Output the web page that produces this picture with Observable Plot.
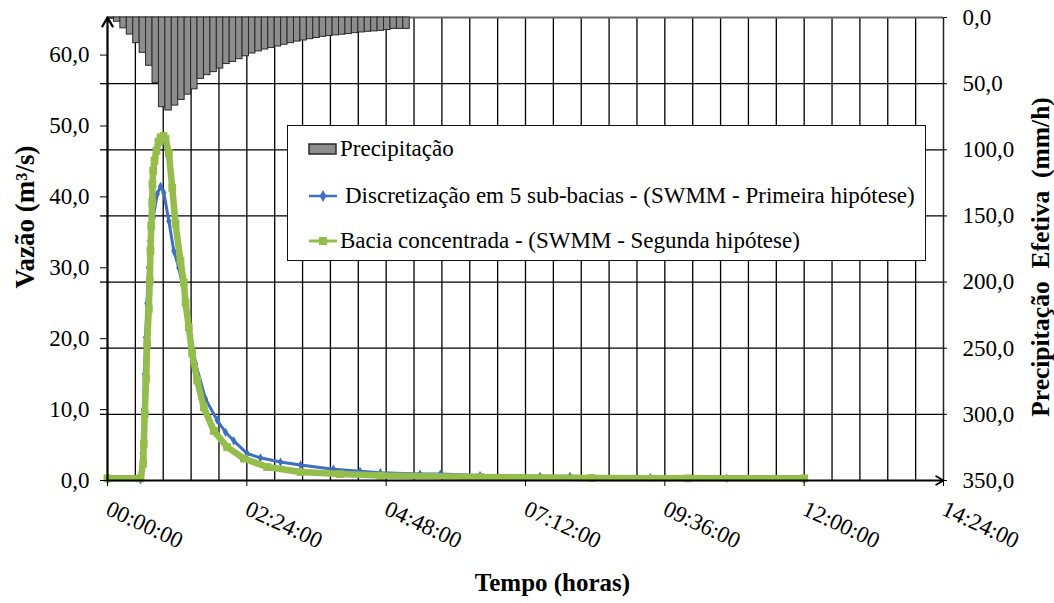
<!DOCTYPE html>
<html>
<head>
<meta charset="utf-8">
<script src="https://cdn.jsdelivr.net/npm/d3@7"></script>
<script src="https://cdn.jsdelivr.net/npm/@observablehq/plot@0.6"></script>
<style>
  body { margin: 0; background: #fff; }
  #chart { position: relative; width: 1054px; height: 603px; font-family: "Liberation Serif", "Times New Roman", serif; }
  #legend { position: absolute; left: 287px; top: 125px; width: 639px; height: 136px; box-sizing: border-box;
            border: 1.5px solid #111; background: #fff; font-size: 23px; color: #000; }
  #legend .item { position: absolute; left: 20px; height: 26px; display: flex; align-items: center; white-space: nowrap; }
  #legend svg { display: block; }
</style>
</head>
<body>
<div id="chart">
  <div id="legend"></div>
</div>
<script>
// Effective rainfall hyetograph (mm/h), one value per rainfall interval
const rain = [1.0, 3.2, 8.2, 12.9, 19.4, 26.7, 36.5, 49.4, 67.8, 70.3,
              66.6, 62.3, 58.3, 54.3, 46.4, 43.6, 41.3, 38.6, 35.2, 33.6,
              31.5, 29.3, 27.2, 25.6, 24.2, 23.0, 21.9, 20.6, 19.4, 18.2,
              17.4, 16.4, 15.5, 14.6, 14.0, 13.5, 13.0, 12.5, 11.8, 11.3,
              10.8, 10.5, 10.1, 9.5, 8.6, 8.6, 8.6];
const rainStep = 864 / 130; // minutes per rainfall interval

// Discharge, 5 sub-basins (SWMM, first hypothesis): time (min), flow (m³/s)
const subTime = [0, 34, 35.1, 35.9, 37.2, 38.2, 39.3, 40.8, 42.4, 43.7, 47.2, 51.4, 54.8, 58.2, 63.4, 68.5, 73.7,
                 80.6, 86, 91, 101.3, 113.4, 122, 130.5, 144.4, 158, 178.8, 199.5, 233.6, 261, 282, 323, 344,
                 385, 447, 478, 561, 640, 720];
const subFlow = [0.1, 0.1, 1.0, 3.8, 10.0, 15.0, 20.2, 25.0, 30.0, 33.8, 37.1, 40.4, 41.5, 40.6, 36.6, 32.4, 30.0,
                 25.5, 20.5, 16.5, 11.5, 8.5, 6.8, 5.6, 3.8, 3.2, 2.6, 2.2, 1.6, 1.3, 1.1, 0.9, 0.9,
                 0.7, 0.6, 0.6, 0.4, 0.3, 0.2];

// Discharge, lumped basin (SWMM, second hypothesis): time (min), flow (m³/s)
const lumpTime = [0, 34.1, 36.9, 37.5, 38.5, 40.0, 41.0, 42.7, 43.7, 44.4, 45.2, 46.2, 46.5, 47.2, 48.6, 50.6, 52.7,
                  54.8, 57.9, 59.9, 63.4, 66.9, 70.3, 75.4, 78.9, 80.6, 84.0, 87.5, 92.7, 99.5, 109.9, 123.7, 140.9,
                  165, 199.5, 240, 282, 385, 500, 600, 720];
const lumpFlow = [0.3, 0.3, 2.4, 5.2, 9.4, 14.4, 19.3, 24.2, 28.2, 32.4, 35.9, 39.2, 41.8, 43.7, 45.1, 46.5, 47.8,
                  48.4, 48.6, 48.2, 46.2, 41.3, 36.2, 31.0, 27.9, 25.1, 21.6, 17.9, 14.1, 10.3, 7.0, 4.7, 3.1,
                  1.9, 1.2, 0.9, 0.7, 0.5, 0.35, 0.3, 0.3];

// Axes
const flowTicks = [0, 10, 20, 30, 40, 50, 60];
const rainTicks = [0, 50, 100, 150, 200, 250, 300, 350];
const timeTicks = [0, 144, 288, 432, 576, 720, 864];
const timeLabels = ["00:00:00", "02:24:00", "04:48:00", "07:12:00", "09:36:00", "12:00:00", "14:24:00"];
const gridStep = 28.8; // minor time gridline spacing (min)

const seriesNames = ["Precipitação",
                     "Discretização em 5 sub-bacias - (SWMM - Primeira hipótese)",
                     "Bacia concentrada - (SWMM - Segunda hipótese)"];
const colors = {rain: "#8d8d8d", sub: "#3f6fc2", lump: "#94bd4c"};

const yMax = 65.3;      // top of the discharge axis
const rainMax = 350;    // bottom of the (inverted) rainfall axis
const rainToY = p => yMax * (1 - p / rainMax);
const yToRain = y => Math.round(rainMax * (1 - y / yMax));
const comma = v => v.toFixed(1).replace(".", ",");

const subData = subTime.map((t, i) => ({t, q: subFlow[i]}));
const lumpData = lumpTime.map((t, i) => ({t, q: lumpFlow[i]}));
const gridMinutes = d3.range(1, Math.round(864 / gridStep)).map(k => k * gridStep);
const gridLevels = rainTicks.slice(1, -1).map(rainToY);

const chart = Plot.plot({
  width: 1054,
  height: 603,
  marginLeft: 107,
  marginRight: 111,
  marginTop: 17,
  marginBottom: 123,
  style: {fontFamily: "'Liberation Serif', 'Times New Roman', serif", fontSize: "23px", color: "#000", background: "#fff"},
  x: {domain: [0, 864]},
  y: {domain: [0, yMax]},
  marks: [
    // grid
    Plot.ruleX(gridMinutes, {stroke: "#000", strokeWidth: 1.3}),
    Plot.ruleY(gridLevels, {stroke: "#000", strokeWidth: 1.3}),
    Plot.axisY({ticks: gridLevels, tickFormat: () => "", tickSize: 7, strokeWidth: 1.3, label: null}),
    Plot.ruleY([yMax], {stroke: "#666", strokeWidth: 2}),
    Plot.ruleX([864], {stroke: "#222", strokeWidth: 1.5}),
    // hyetograph hanging from the top
    Plot.rect(rain, {
      x1: (d, i) => i * rainStep,
      x2: (d, i) => (i + 1) * rainStep,
      y1: yMax,
      y2: d => rainToY(d),
      fill: colors.rain, stroke: "#2a2a2a", strokeWidth: 1
    }),
    // hydrographs
    Plot.line(subData, {x: "t", y: "q", stroke: colors.sub, strokeWidth: 3}),
    Plot.dot(subData, {x: "t", y: "q", symbol: "diamond", r: 2.8, fill: colors.sub, stroke: null}),
    Plot.line(lumpData, {x: "t", y: "q", stroke: colors.lump, strokeWidth: 6.5, strokeLinejoin: "round"}),
    Plot.dot(lumpData, {x: "t", y: "q", symbol: "square", r: 4.4, fill: colors.lump, stroke: null}),
    // axis lines with arrowheads
    Plot.arrow([{x1: 0, y1: 0, x2: 0, y2: yMax}], {x1: "x1", y1: "y1", x2: "x2", y2: "y2", stroke: "#000", strokeWidth: 2.2, headLength: 7}),
    Plot.arrow([{x1: 0, y1: 0, x2: 864, y2: 0}], {x1: "x1", y1: "y1", x2: "x2", y2: "y2", stroke: "#000", strokeWidth: 1.8, headLength: 7}),
    // axes
    Plot.axisY({ticks: flowTicks, tickFormat: comma, tickSize: 7, tickPadding: 11, label: null}),
    Plot.axisY({anchor: "right", ticks: rainTicks.map(rainToY), tickFormat: y => comma(yToRain(y)), tickSize: 3, tickPadding: 16, label: null}),
    Plot.axisX({ticks: timeTicks, tickFormat: d => timeLabels[timeTicks.indexOf(d)], tickRotate: 25, tickSize: 6, tickPadding: 21, label: null}),
    // axis titles
    Plot.text(["Vazão (m³/s)"], {frameAnchor: "left", textAnchor: "middle", dx: -82, dy: -32, rotate: -90, fontWeight: "bold", fontSize: 27}),
    Plot.text(["Precipitação\u00a0 Efetiva\u00a0 (mm/h)"], {frameAnchor: "right", textAnchor: "middle", dx: 97, dy: 8, rotate: -90, fontWeight: "bold", fontSize: 25.5}),
    Plot.text(["Tempo (horas)"], {frameAnchor: "bottom", textAnchor: "middle", dx: 27, dy: 110, fontWeight: "bold", fontSize: 25})
  ]
});
document.getElementById("chart").prepend(chart);

// legend inside the plot area
const legend = d3.select("#legend");
const swatches = [
  svg => svg.append("rect").attr("x", 1).attr("y", 4).attr("width", 27).attr("height", 10)
            .attr("fill", colors.rain).attr("stroke", "#2a2a2a").attr("stroke-width", 1.5),
  svg => {
    svg.append("line").attr("x1", 1).attr("x2", 29).attr("y1", 9).attr("y2", 9).attr("stroke", colors.sub).attr("stroke-width", 2.5);
    svg.append("path").attr("d", d3.symbol(d3.symbolDiamond, 40)()).attr("transform", "translate(15,9)").attr("fill", colors.sub);
  },
  svg => {
    svg.append("line").attr("x1", 1).attr("x2", 29).attr("y1", 9).attr("y2", 9).attr("stroke", colors.lump).attr("stroke-width", 3);
    svg.append("rect").attr("x", 11).attr("y", 5).attr("width", 8).attr("height", 8).attr("fill", colors.lump);
  }
];
const itemTops = [10, 57, 102];
const textGaps = [2, 7, 2];
seriesNames.forEach((name, i) => {
  const item = legend.append("div").attr("class", "item").style("top", itemTops[i] + "px");
  const svg = item.append("svg").attr("width", 30).attr("height", 18);
  swatches[i](svg);
  item.append("span").style("margin-left", textGaps[i] + "px").text(name);
});
</script>
</body>
</html>
